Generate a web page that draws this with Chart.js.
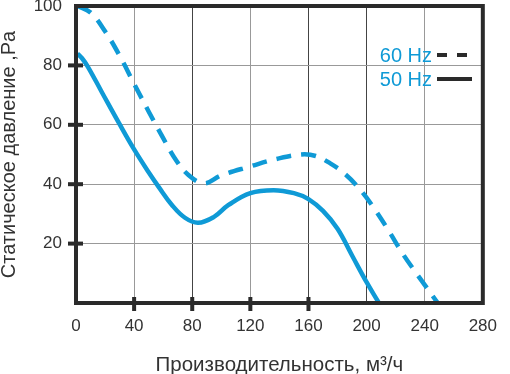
<!DOCTYPE html>
<html>
<head>
<meta charset="utf-8">
<script src="https://cdn.jsdelivr.net/npm/chart.js@4/dist/chart.umd.min.js"></script>
<style>
  html, body { margin: 0; padding: 0; background: #ffffff; }
  #wrap { width: 510px; height: 374px; }
</style>
</head>
<body>
<div id="wrap"><canvas id="c" width="510" height="374"></canvas></div>
<script>
// ---- data ----
const flow60 = [1, 10, 20, 30, 40, 50, 60, 69, 77, 88, 100, 120, 138, 155, 165, 175, 185, 195, 205, 215, 225, 235, 249];
const pressure60 = [100, 97.8, 91.5, 83.3, 73.8, 64.5, 55.5, 48, 43.3, 40.3, 43, 46, 48.5, 50, 49.5, 47, 43.5, 38.5, 32, 24.5, 16.5, 9.5, 0];
const flow50 = [1, 4, 8, 18, 30, 40, 50, 57, 66, 75, 84, 95, 105, 120, 136, 150, 160, 170, 180, 190, 200, 208.5];
const pressure50 = [84, 82.5, 79.7, 70.8, 60.2, 51.7, 44, 39, 33, 28.7, 27, 29, 33, 37, 38, 37, 35, 31, 25, 16, 7, 0];
const xTicks = [0, 40, 80, 120, 160, 200, 240, 280];
const yTicks = [20, 40, 60, 80, 100];
const xMarks = [40, 80, 120, 160];
const yMarks = [20, 40, 60, 80];
const seriesNames = ['60 Hz', '50 Hz'];
const xTitle = 'Производительность, м³/ч';
const yTitle = 'Статическое давление ,Pa';

const BLUE = '#0f9ad6';
const DARK = '#2a2a2a';
const FONT = 'Liberation Sans, Arial, sans-serif';

function toPts(xs, ys) { return xs.map((x, i) => ({ x: x, y: ys[i] })); }

const frame = {
  id: 'frame',
  afterDatasetsDraw(chart) {
    const { ctx, chartArea: a, scales } = chart;
    ctx.save();
    // tick bars
    ctx.strokeStyle = DARK;
    ctx.lineWidth = 4;
    xMarks.forEach(v => {
      const px = scales.x.getPixelForValue(v);
      ctx.beginPath(); ctx.moveTo(px, a.bottom - 6); ctx.lineTo(px, a.bottom + 8); ctx.stroke();
    });
    yMarks.forEach(v => {
      const py = scales.y.getPixelForValue(v);
      ctx.beginPath(); ctx.moveTo(a.left - 8, py); ctx.lineTo(a.left + 7, py); ctx.stroke();
    });
    // border
    ctx.lineWidth = 4;
    ctx.strokeRect(a.left, a.top, a.right - a.left, a.bottom - a.top);
    // legend
    ctx.font = '20px ' + FONT;
    ctx.fillStyle = BLUE;
    ctx.textAlign = 'right';
    ctx.textBaseline = 'middle';
    ctx.fillText(seriesNames[0], 432, 56);
    ctx.fillText(seriesNames[1], 432, 80);
    ctx.strokeStyle = DARK;
    ctx.lineWidth = 4;
    ctx.setLineDash([10, 10]);
    ctx.beginPath(); ctx.moveTo(437, 55); ctx.lineTo(470, 55); ctx.stroke();
    ctx.setLineDash([]);
    ctx.beginPath(); ctx.moveTo(437, 79); ctx.lineTo(472, 79); ctx.stroke();
    ctx.restore();
  }
};

new Chart(document.getElementById('c'), {
  type: 'scatter',
  data: {
    datasets: [
      { label: seriesNames[0], data: toPts(flow60, pressure60), showLine: true, borderColor: BLUE, borderWidth: 4.5,
        borderDash: [15, 10], pointRadius: 0, tension: 0.4, fill: false },
      { label: seriesNames[1], data: toPts(flow50, pressure50), showLine: true, borderColor: BLUE, borderWidth: 4.5,
        pointRadius: 0, tension: 0.4, fill: false }
    ]
  },
  options: {
    responsive: false,
    animation: false,
    devicePixelRatio: 1,
    layout: { padding: { left: 0, right: 17, top: 6, bottom: 0 } },
    plugins: { legend: { display: false }, tooltip: { enabled: false } },
    scales: {
      x: {
        type: 'linear', min: 0, max: 280,
        afterBuildTicks: s => { s.ticks = xTicks.map(v => ({ value: v })); },
        afterFit: s => { s.height = 71; },
        ticks: { color: '#333', font: { family: FONT, size: 17 }, padding: 13, maxRotation: 0 },
        grid: {
          drawTicks: false,
          color: c => ([80, 160, 200].includes(c.tick.value) ? '#444' : '#999'),
          lineWidth: 1
        },
        border: { display: false },
        title: { display: true, text: xTitle, color: '#333', font: { family: FONT, size: 20.5, lineHeight: 0.85 }, padding: { top: 0, bottom: 0 } }
      },
      y: {
        type: 'linear', min: 0, max: 100,
        afterBuildTicks: s => { s.ticks = [0].concat(yTicks).map(v => ({ value: v })); },
        afterFit: s => { s.width = 76; s.paddingTop = 0; s.paddingBottom = 0; },
        ticks: { color: '#333', font: { family: FONT, size: 17 }, padding: 14, callback: v => (v === 0 ? '' : v) },
        grid: { drawTicks: false, color: '#999', lineWidth: 1 },
        border: { display: false },
        title: { display: true, text: yTitle, color: '#333', font: { family: FONT, size: 20, lineHeight: 0.9 }, padding: { top: 0, bottom: 0 } }
      }
    }
  },
  plugins: [frame]
});
</script>
</body>
</html>
